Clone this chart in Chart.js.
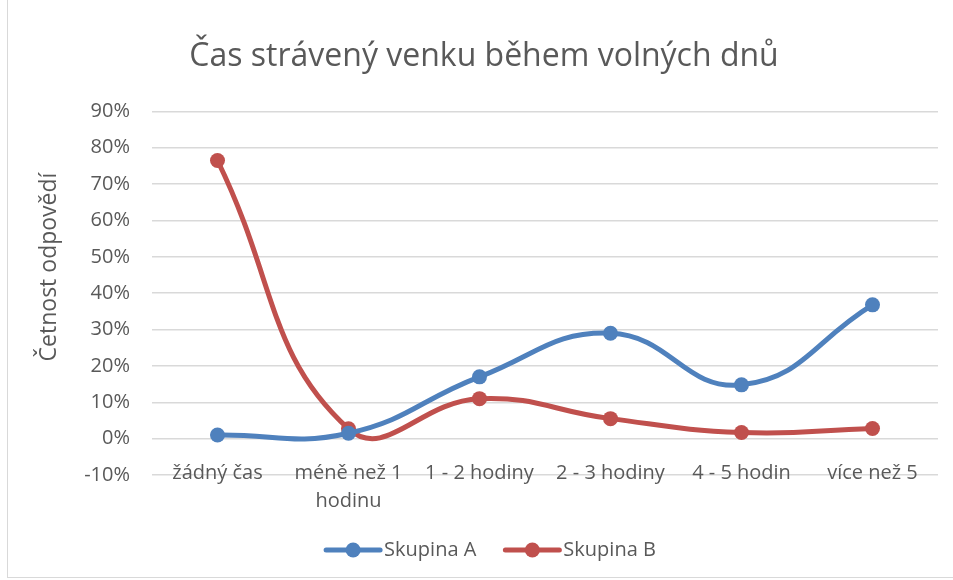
<!DOCTYPE html>
<html>
<head>
<meta charset="utf-8">
<script src="https://cdn.jsdelivr.net/npm/chart.js@4"></script>
<style>
  body { margin: 0; background: #fff; }
  #wrap { width: 953px; height: 580px; }
</style>
</head>
<body>
<div id="wrap"><canvas id="lineChart"></canvas></div>
<script>
var categories = ["žádný čas", ["méně než 1", "hodinu"], "1 - 2 hodiny", "2 - 3 hodiny", "4 - 5 hodin", "více než 5"];
var skupinaA = [0.01, 0.015, 0.17, 0.29, 0.148, 0.368];
var skupinaB = [0.765, 0.027, 0.11, 0.055, 0.017, 0.028];
var seriesNames = ["Skupina A", "Skupina B"];
var seriesColors = ["#4f81bd", "#c0504d"];
var axisTitle = "Četnost odpovědí";

var textColor = "#595959";
var fontFamily = "'Open Sans', 'Liberation Sans', sans-serif";

// excel style legend (line with a dot), y axis title and the outer frame
var excelBits = {
  id: "excelBits",
  afterDraw: function (chart) {
    var ctx = chart.ctx;
    var ds = chart.data.datasets;
    ctx.save();
    ctx.font = "20px " + fontFamily;
    ctx.textBaseline = "middle";
    var y = 550;
    var widths = ds.map(function (d) { return 60 + ctx.measureText(d.label).width; });
    var total = widths.reduce(function (a, b) { return a + b; }, 0) + 27;
    var x = 490 - total / 2;
    for (var i = 0; i < ds.length; i++) {
      ctx.strokeStyle = ds[i].borderColor;
      ctx.lineWidth = 5;
      ctx.lineCap = "round";
      ctx.beginPath();
      ctx.moveTo(x + 2, y);
      ctx.lineTo(x + 56, y);
      ctx.stroke();
      ctx.fillStyle = ds[i].borderColor;
      ctx.beginPath();
      ctx.arc(x + 29, y, 7.5, 0, Math.PI * 2);
      ctx.fill();
      ctx.fillStyle = textColor;
      ctx.fillText(ds[i].label, x + 60, y);
      x += widths[i] + 27;
    }

    ctx.save();
    ctx.translate(49, 267);
    ctx.rotate(-Math.PI / 2);
    ctx.font = "23px " + fontFamily;
    ctx.textAlign = "center";
    ctx.fillStyle = textColor;
    ctx.fillText(axisTitle, 0, 0);
    ctx.restore();

    ctx.strokeStyle = "#d9d9d9";
    ctx.lineWidth = 1;
    ctx.strokeRect(7.5, -1, chart.width + 2, 578.5);
    ctx.restore();
  }
};

var context = document.getElementById("lineChart").getContext("2d");
var myChart = new Chart(context, {
  type: "line",
  data: {
    labels: categories,
    datasets: [
      {
        label: seriesNames[0],
        data: skupinaA,
        borderColor: seriesColors[0],
        backgroundColor: seriesColors[0],
        borderWidth: 5,
        pointRadius: 7.5,
        pointHoverRadius: 7.5,
        pointBorderWidth: 0,
        tension: 0.45,
      },
      {
        label: seriesNames[1],
        data: skupinaB,
        borderColor: seriesColors[1],
        backgroundColor: seriesColors[1],
        borderWidth: 5,
        pointRadius: 7.5,
        pointHoverRadius: 7.5,
        pointBorderWidth: 0,
        tension: 0.45,
      },
    ],
  },
  options: {
    responsive: true,
    maintainAspectRatio: false,
    animation: false,
    layout: { padding: { left: 30, right: 15, top: 0, bottom: 45 } },
    plugins: {
      legend: { display: false },
      tooltip: { enabled: false },
      title: {
        display: true,
        text: "Čas strávený venku během volných dnů",
        color: textColor,
        font: { family: fontFamily, size: 32, weight: "normal" },
        padding: { top: 38, bottom: 35 },
      },
    },
    scales: {
      x: {
        offset: true,
        grid: { display: false, drawTicks: false },
        border: { display: false },
        ticks: {
          color: textColor,
          font: { family: fontFamily, size: 20, lineHeight: 1.4 },
          maxRotation: 0,
          autoSkip: false,
          mirror: true, // labels sit on the -10% line like in excel, mirror avoids the clip
          padding: -12,
        },
        afterFit: function (scale) { scale.height = 60; },
      },
      y: {
        min: -0.1,
        max: 0.9,
        grid: { color: "#d9d9d9", lineWidth: 1.5, drawTicks: false },
        border: { display: false },
        ticks: {
          stepSize: 0.1,
          color: textColor,
          font: { family: fontFamily, size: 20 },
          padding: 22,
          callback: function (v) { return Math.round(v * 100) + "%"; },
        },
        afterFit: function (scale) { scale.width = 122; },
      },
    },
  },
  plugins: [excelBits],
});
</script>
</body>
</html>
